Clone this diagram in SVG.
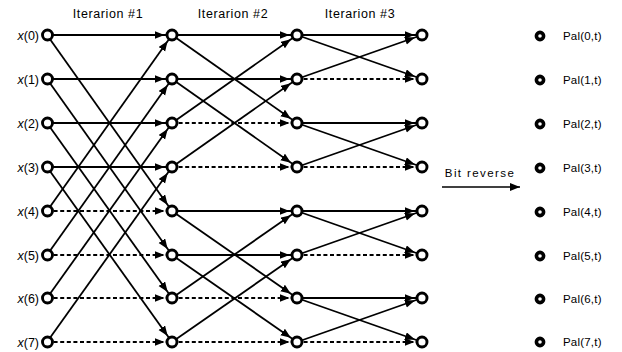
<svg xmlns="http://www.w3.org/2000/svg" width="622" height="352" viewBox="0 0 622 352">
<style>
text{font-family:"Liberation Sans",Arial,sans-serif;fill:#000}
.lbl{font-size:12.5px}
.hdr{font-size:12.5px;letter-spacing:0.6px}
.pal{font-size:11.5px;letter-spacing:0.2px}
.br{font-size:11.5px;letter-spacing:1.4px}
.e{stroke:#000;stroke-width:1.8;fill:none;marker-end:url(#ah)}
.d{stroke-dasharray:4 2.6}
.n{fill:#fff;stroke:#000;stroke-width:2.9}
.p{fill:#fff;stroke:#000;stroke-width:3.6}
</style>
<defs>
<marker id="ah" markerUnits="userSpaceOnUse" markerWidth="22" markerHeight="10" viewBox="0 0 22 10" refX="17.5" refY="4" orient="auto">
<path d="M0,0 L10,4 L0,8 z" fill="#000"/>
</marker>
<marker id="ah2" markerUnits="userSpaceOnUse" markerWidth="12" markerHeight="10" viewBox="0 0 12 10" refX="10" refY="4" orient="auto">
<path d="M0,0 L10,4 L0,8 z" fill="#000"/>
</marker>
</defs>
<rect width="622" height="352" fill="#fff"/>
<g id="headers">
<text class="hdr" x="108" y="18" text-anchor="middle">Iterarion #1</text>
<text class="hdr" x="233" y="18" text-anchor="middle">Iterarion #2</text>
<text class="hdr" x="360" y="18" text-anchor="middle">Iterarion #3</text>
</g>
<g id="connectors">
<!-- iteration 1 -->
<path class="e" d="M47,35 L172,35"/>
<path class="e" d="M47,35 L172,211"/>
<path class="e" d="M47,211 L172,35"/>
<path class="e d" d="M47,211 L172,211"/>
<path class="e" d="M47,79 L172,79"/>
<path class="e" d="M47,79 L172,255"/>
<path class="e" d="M47,255 L172,79"/>
<path class="e d" d="M47,255 L172,255"/>
<path class="e" d="M47,123 L172,123"/>
<path class="e" d="M47,123 L172,298"/>
<path class="e" d="M47,298 L172,123"/>
<path class="e d" d="M47,298 L172,298"/>
<path class="e" d="M47,167 L172,167"/>
<path class="e" d="M47,167 L172,342"/>
<path class="e" d="M47,342 L172,167"/>
<path class="e d" d="M47,342 L172,342"/>
<!-- iteration 2 -->
<path class="e" d="M172,35 L297,35"/>
<path class="e" d="M172,35 L297,123"/>
<path class="e" d="M172,123 L297,35"/>
<path class="e d" d="M172,123 L297,123"/>
<path class="e" d="M172,79 L297,79"/>
<path class="e" d="M172,79 L297,167"/>
<path class="e" d="M172,167 L297,79"/>
<path class="e d" d="M172,167 L297,167"/>
<path class="e" d="M172,211 L297,211"/>
<path class="e" d="M172,211 L297,298"/>
<path class="e" d="M172,298 L297,211"/>
<path class="e d" d="M172,298 L297,298"/>
<path class="e" d="M172,255 L297,255"/>
<path class="e" d="M172,255 L297,342"/>
<path class="e" d="M172,342 L297,255"/>
<path class="e d" d="M172,342 L297,342"/>
<!-- iteration 3 -->
<path class="e" d="M297,35 L422,35"/>
<path class="e" d="M297,35 L422,79"/>
<path class="e" d="M297,79 L422,35"/>
<path class="e d" d="M297,79 L422,79"/>
<path class="e" d="M297,123 L422,123"/>
<path class="e" d="M297,123 L422,167"/>
<path class="e" d="M297,167 L422,123"/>
<path class="e d" d="M297,167 L422,167"/>
<path class="e" d="M297,211 L422,211"/>
<path class="e" d="M297,211 L422,255"/>
<path class="e" d="M297,255 L422,211"/>
<path class="e d" d="M297,255 L422,255"/>
<path class="e" d="M297,298 L422,298"/>
<path class="e" d="M297,298 L422,342"/>
<path class="e" d="M297,342 L422,298"/>
<path class="e d" d="M297,342 L422,342"/>
<!-- bit reverse -->
<path d="M442,187 L520,187" stroke="#000" stroke-width="1.6" fill="none" marker-end="url(#ah2)"/>
</g>
<text class="br" x="480" y="177" text-anchor="middle">Bit reverse</text>
<g id="x0"><text class="lbl" x="39" y="39.5" text-anchor="end"><tspan font-style="italic">x</tspan>(0)</text><circle class="n" cx="47.5" cy="35" r="5"/></g>
<g id="x1"><text class="lbl" x="39" y="83.5" text-anchor="end"><tspan font-style="italic">x</tspan>(1)</text><circle class="n" cx="47.5" cy="79" r="5"/></g>
<g id="x2"><text class="lbl" x="39" y="127.5" text-anchor="end"><tspan font-style="italic">x</tspan>(2)</text><circle class="n" cx="47.5" cy="123" r="5"/></g>
<g id="x3"><text class="lbl" x="39" y="171.5" text-anchor="end"><tspan font-style="italic">x</tspan>(3)</text><circle class="n" cx="47.5" cy="167" r="5"/></g>
<g id="x4"><text class="lbl" x="39" y="215.5" text-anchor="end"><tspan font-style="italic">x</tspan>(4)</text><circle class="n" cx="47.5" cy="211" r="5"/></g>
<g id="x5"><text class="lbl" x="39" y="259.5" text-anchor="end"><tspan font-style="italic">x</tspan>(5)</text><circle class="n" cx="47.5" cy="255" r="5"/></g>
<g id="x6"><text class="lbl" x="39" y="302.5" text-anchor="end"><tspan font-style="italic">x</tspan>(6)</text><circle class="n" cx="47.5" cy="298" r="5"/></g>
<g id="x7"><text class="lbl" x="39" y="346.5" text-anchor="end"><tspan font-style="italic">x</tspan>(7)</text><circle class="n" cx="47.5" cy="342" r="5"/></g>
<g id="s1_0"><circle class="n" cx="172" cy="35" r="5"/></g>
<g id="s1_1"><circle class="n" cx="172" cy="79" r="5"/></g>
<g id="s1_2"><circle class="n" cx="172" cy="123" r="5"/></g>
<g id="s1_3"><circle class="n" cx="172" cy="167" r="5"/></g>
<g id="s1_4"><circle class="n" cx="172" cy="211" r="5"/></g>
<g id="s1_5"><circle class="n" cx="172" cy="255" r="5"/></g>
<g id="s1_6"><circle class="n" cx="172" cy="298" r="5"/></g>
<g id="s1_7"><circle class="n" cx="172" cy="342" r="5"/></g>
<g id="s2_0"><circle class="n" cx="297" cy="35" r="5"/></g>
<g id="s2_1"><circle class="n" cx="297" cy="79" r="5"/></g>
<g id="s2_2"><circle class="n" cx="297" cy="123" r="5"/></g>
<g id="s2_3"><circle class="n" cx="297" cy="167" r="5"/></g>
<g id="s2_4"><circle class="n" cx="297" cy="211" r="5"/></g>
<g id="s2_5"><circle class="n" cx="297" cy="255" r="5"/></g>
<g id="s2_6"><circle class="n" cx="297" cy="298" r="5"/></g>
<g id="s2_7"><circle class="n" cx="297" cy="342" r="5"/></g>
<g id="s3_0"><circle class="n" cx="422" cy="35" r="5"/></g>
<g id="s3_1"><circle class="n" cx="422" cy="79" r="5"/></g>
<g id="s3_2"><circle class="n" cx="422" cy="123" r="5"/></g>
<g id="s3_3"><circle class="n" cx="422" cy="167" r="5"/></g>
<g id="s3_4"><circle class="n" cx="422" cy="211" r="5"/></g>
<g id="s3_5"><circle class="n" cx="422" cy="255" r="5"/></g>
<g id="s3_6"><circle class="n" cx="422" cy="298" r="5"/></g>
<g id="s3_7"><circle class="n" cx="422" cy="342" r="5"/></g>
<g id="pal0"><circle class="p" cx="540" cy="36" r="3.6"/><text class="pal" x="563" y="40">Pal(0,t)</text></g>
<g id="pal1"><circle class="p" cx="540" cy="80" r="3.6"/><text class="pal" x="563" y="84">Pal(1,t)</text></g>
<g id="pal2"><circle class="p" cx="540" cy="124" r="3.6"/><text class="pal" x="563" y="128">Pal(2,t)</text></g>
<g id="pal3"><circle class="p" cx="540" cy="168" r="3.6"/><text class="pal" x="563" y="172">Pal(3,t)</text></g>
<g id="pal4"><circle class="p" cx="540" cy="212" r="3.6"/><text class="pal" x="563" y="216">Pal(4,t)</text></g>
<g id="pal5"><circle class="p" cx="540" cy="256" r="3.6"/><text class="pal" x="563" y="260">Pal(5,t)</text></g>
<g id="pal6"><circle class="p" cx="540" cy="299" r="3.6"/><text class="pal" x="563" y="303">Pal(6,t)</text></g>
<g id="pal7"><circle class="p" cx="540" cy="342" r="3.6"/><text class="pal" x="563" y="346">Pal(7,t)</text></g>
</svg>
